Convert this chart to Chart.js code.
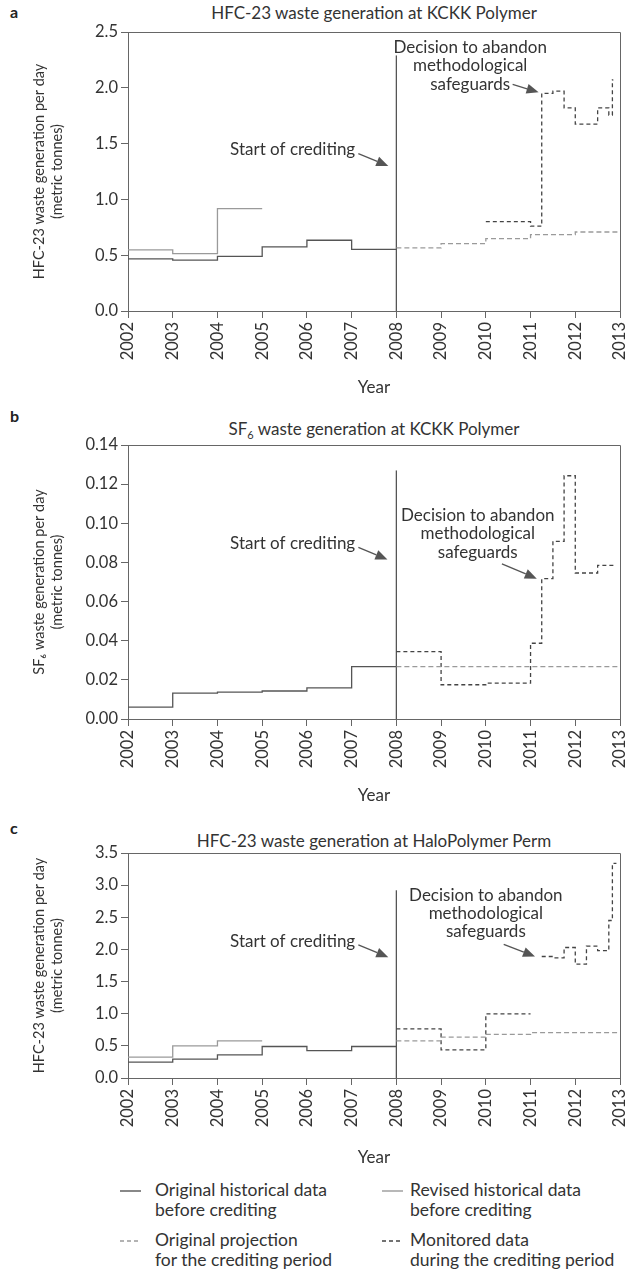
<!DOCTYPE html>
<html>
<head>
<meta charset="utf-8">
<script src="https://cdn.jsdelivr.net/npm/chart.js@4.4.1/dist/chart.umd.min.js"></script>
<style>
    body { margin: 0; background: #fff; font-family: Lato, sans-serif; color: #333; }
    #page { position: relative; width: 627px; height: 1270px; overflow: hidden; }
    .panel { position: absolute; left: 0; width: 627px; }
    .letter { position: absolute; left: 10px; font-weight: bold; font-size: 16px; color: #222; }
    .title { position: absolute; left: 128px; width: 492px; text-align: center; font-size: 17px; line-height: 18px; }
    .title sub { font-size: 11px; vertical-align: -4px; line-height: 0; }
    .legend { position: absolute; font-size: 17.5px; line-height: 19.5px; }
    .legend svg { position: absolute; top: 9px; }
</style>
</head>
<body>
<div id="page">
    <div class="letter" style="top: 2px;">a</div>
    <div class="title" style="top: 4px;">HFC-23 waste generation at KCKK Polymer</div>
    <div class="panel" style="top: 0; height: 400px;"><canvas id="chartA" width="627" height="400"></canvas></div>

    <div class="letter" style="top: 406px;">b</div>
    <div class="title" style="top: 420px;">SF<sub>6</sub> waste generation at KCKK Polymer</div>
    <div class="panel" style="top: 400px; height: 408px;"><canvas id="chartB" width="627" height="408"></canvas></div>

    <div class="letter" style="top: 818px;">c</div>
    <div class="title" style="top: 832px;">HFC-23 waste generation at HaloPolymer Perm</div>
    <div class="panel" style="top: 808px; height: 362px;"><canvas id="chartC" width="627" height="362"></canvas></div>

    <div class="legend" style="left: 155px; top: 1180px;">
        <svg width="21" height="4" style="left: -35px;"><line x1="0" y1="2" x2="21" y2="2" stroke="#555" stroke-width="1.4"/></svg>
        Original historical data<br>before crediting
    </div>
    <div class="legend" style="left: 410px; top: 1180px;">
        <svg width="21" height="4" style="left: -28px;"><line x1="0" y1="2" x2="21" y2="2" stroke="#9a9a9a" stroke-width="1.4"/></svg>
        Revised historical data<br>before crediting
    </div>
    <div class="legend" style="left: 155px; top: 1230px;">
        <svg width="21" height="4" style="left: -35px;"><line x1="0" y1="2" x2="21" y2="2" stroke="#9a9a9a" stroke-width="1.4" stroke-dasharray="4 3"/></svg>
        Original projection<br>for the crediting period
    </div>
    <div class="legend" style="left: 410px; top: 1230px;">
        <svg width="21" height="4" style="left: -28px;"><line x1="0" y1="2" x2="21" y2="2" stroke="#444" stroke-width="1.4" stroke-dasharray="4 3"/></svg>
        Monitored data<br>during the crediting period
    </div>
</div>

<script>
// Tick labels
const yearLabels = ['2002', '2003', '2004', '2005', '2006', '2007', '2008', '2009', '2010', '2011', '2012', '2013'];
const yTicksA = ['0.0', '0.5', '1.0', '1.5', '2.0', '2.5'];
const yTicksB = ['0.00', '0.02', '0.04', '0.06', '0.08', '0.10', '0.12', '0.14'];
const yTicksC = ['0.0', '0.5', '1.0', '1.5', '2.0', '2.5', '3.0', '3.5'];

// Step edges (years) shared by the series
const histEdges = [2002, 2003, 2004, 2005, 2006, 2007, 2008];
const revEdges = [2002, 2003, 2004, 2005];
const projEdges = [2008, 2009, 2010, 2011, 2012, 2013];
const creditStart = 2008;

// Panel a: HFC-23 at KCKK Polymer
const origA = [0.467, 0.455, 0.49, 0.574, 0.634, 0.553];
const revA = [0.548, 0.515, 0.917];
const projA = [0.565, 0.604, 0.649, 0.685, 0.708];
const monEdgesA = [2010, 2011, 2011.25, 2011.5, 2011.75, 2012, 2012.5, 2012.75, 2012.83, 2012.85];
const monA = [0.80, 0.76, 1.95, 1.97, 1.82, 1.675, 1.82, 1.756, 2.07];
const creditTopA = 2.29;

// Panel b: SF6 at KCKK Polymer
const origB = [0.0061, 0.0132, 0.0137, 0.0143, 0.0159, 0.0268];
const projB = [0.0268, 0.0268, 0.0268, 0.0268, 0.0268];
const monEdgesB = [2008, 2009, 2010, 2011, 2011.25, 2011.5, 2011.75, 2012, 2012.5, 2012.87];
const monB = [0.0344, 0.0175, 0.0183, 0.0387, 0.0717, 0.0908, 0.1243, 0.0746, 0.0785];
const creditTopB = 0.127;

// Panel c: HFC-23 at HaloPolymer Perm
const origC = [0.247, 0.293, 0.36, 0.49, 0.427, 0.49];
const revC = [0.324, 0.50, 0.578];
const projC = [0.578, 0.635, 0.68, 0.707, 0.707];
const monEdgesC = [2008, 2009, 2010, 2011, 2011.25, 2011.5, 2011.75, 2012, 2012.25, 2012.5, 2012.75, 2012.83, 2012.92];
const monC = [0.764, 0.438, 0.997, null, 1.89, 1.87, 2.03, 1.77, 2.05, 1.98, 2.45, 3.34];
const creditTopC = 2.92;

const DARK = '#555';
const LIGHT = '#9a9a9a';
const AXIS = '#666';
const TEXT = '#333';

// turn edges + values into points for a 'before' stepped line
function stepPoints(edges, vals) {
    const pts = [];
    vals.forEach((v, i) => {
        if (v === null) {
            pts.push({ x: edges[i], y: null });
            return;
        }
        pts.push({ x: edges[i], y: v });
        if (i === vals.length - 1 || vals[i + 1] === null) {
            pts.push({ x: edges[i + 1], y: v });
        }
    });
    return pts;
}

function stepSet(points, color, dash) {
    return {
        data: points,
        borderColor: color,
        borderWidth: 1.3,
        borderDash: dash || [],
        stepped: 'before',
        pointRadius: 0,
        fill: false
    };
}

// frame on top/right
const framePlugin = {
    id: 'frame',
    afterDraw(chart) {
        const { ctx, chartArea: a } = chart;
        ctx.save();
        ctx.strokeStyle = AXIS;
        ctx.lineWidth = 1;
        ctx.beginPath();
        ctx.moveTo(a.left, a.top + 0.5);
        ctx.lineTo(a.right + 0.5, a.top + 0.5);
        ctx.lineTo(a.right + 0.5, a.bottom);
        ctx.stroke();
        ctx.restore();
    }
};

// notes with arrows
const notesPlugin = {
    id: 'notes',
    afterDatasetsDraw(chart, args, opts) {
        const { ctx, scales: { x, y } } = chart;
        ctx.save();
        ctx.font = '17px Lato';
        ctx.textBaseline = 'middle';
        opts.items.forEach(n => {
            ctx.fillStyle = TEXT;
            ctx.textAlign = n.align;
            const px = x.getPixelForValue(n.x);
            const py = y.getPixelForValue(n.y);
            n.lines.forEach((t, i) => ctx.fillText(t, px, py + i * 18.3));

            const x0 = x.getPixelForValue(n.tail[0]), y0 = y.getPixelForValue(n.tail[1]);
            const x1 = x.getPixelForValue(n.tip[0]), y1 = y.getPixelForValue(n.tip[1]);
            const ang = Math.atan2(y1 - y0, x1 - x0);
            const len = 12, half = 5;
            ctx.strokeStyle = DARK;
            ctx.fillStyle = DARK;
            ctx.lineWidth = 1.3;
            ctx.beginPath();
            ctx.moveTo(x0, y0);
            ctx.lineTo(x1 - len * Math.cos(ang), y1 - len * Math.sin(ang));
            ctx.stroke();
            ctx.beginPath();
            ctx.moveTo(x1, y1);
            ctx.lineTo(x1 - len * Math.cos(ang) + half * Math.sin(ang), y1 - len * Math.sin(ang) - half * Math.cos(ang));
            ctx.lineTo(x1 - len * Math.cos(ang) - half * Math.sin(ang), y1 - len * Math.sin(ang) + half * Math.cos(ang));
            ctx.closePath();
            ctx.fill();
        });
        ctx.restore();
    }
};

const decisionText = ['Decision to abandon', 'methodological', 'safeguards'];

function makeChart(id, p) {
    const datasets = [stepSet(stepPoints(histEdges, p.orig), DARK)];
    if (p.rev) datasets.push(stepSet(stepPoints(revEdges, p.rev), LIGHT));
    datasets.push(stepSet(stepPoints(projEdges, p.proj), LIGHT, [5, 3]));
    datasets.push(stepSet(stepPoints(p.monEdges, p.mon), '#444', [4, 3]));
    datasets.push({
        data: [{ x: creditStart, y: 0 }, { x: creditStart, y: p.creditTop }],
        borderColor: DARK,
        borderWidth: 1.3,
        pointRadius: 0
    });

    return new Chart(document.getElementById(id), {
        type: 'line',
        data: { datasets: datasets },
        plugins: [framePlugin, notesPlugin],
        options: {
            responsive: false,
            animation: false,
            events: [],
            layout: { padding: { top: p.padTop, right: 7, left: 0, bottom: 0 } },
            plugins: {
                legend: { display: false },
                tooltip: { enabled: false },
                notes: { items: p.notes }
            },
            scales: {
                x: {
                    type: 'linear',
                    min: 2002,
                    max: 2013,
                    afterFit: s => { s.height = p.xHeight; s.paddingLeft = 0; s.paddingRight = 0; },
                    ticks: {
                        stepSize: 1,
                        autoSkip: false,
                        maxRotation: 90,
                        minRotation: 90,
                        padding: 4,
                        color: TEXT,
                        font: { family: 'Lato', size: 16.5 },
                        callback: v => yearLabels[Math.round(v - 2002)]
                    },
                    grid: { drawOnChartArea: false, tickLength: 7, color: AXIS },
                    border: { color: AXIS },
                    title: { display: true, text: 'Year', color: TEXT, font: { family: 'Lato', size: 17 }, padding: { top: 0, bottom: 2 } }
                },
                y: {
                    min: 0,
                    max: p.yMax,
                    afterFit: s => { s.width = 128; s.paddingTop = 0; s.paddingBottom = 0; },
                    ticks: {
                        stepSize: p.yStep,
                        padding: 3,
                        color: TEXT,
                        font: { family: 'Lato', size: 16.5 },
                        callback: (v, i) => p.yTicks[i]
                    },
                    grid: { drawOnChartArea: false, tickLength: 7, color: AXIS },
                    border: { color: AXIS },
                    title: { display: true, text: p.yTitle, color: TEXT, font: { family: 'Lato', size: 14.5, lineHeight: 1.2 }, padding: { top: 31, bottom: 0 } }
                }
            }
        }
    });
}

makeChart('chartA', {
    orig: origA, rev: revA, proj: projA, monEdges: monEdgesA, mon: monA, creditTop: creditTopA,
    yMax: 2.5, yStep: 0.5, yTicks: yTicksA, padTop: 32, xHeight: 89,
    yTitle: ['HFC-23 waste generation per day', '(metric tonnes)'],
    notes: [
        { lines: ['Start of crediting'], x: 2007.08, y: 1.45, align: 'right', tail: [2007.15, 1.41], tip: [2007.82, 1.30] },
        { lines: decisionText, x: 2009.65, y: 2.36, align: 'center', tail: [2010.6, 2.03], tip: [2011.18, 1.96] }
    ]
});

makeChart('chartB', {
    orig: origB, rev: null, proj: projB, monEdges: monEdgesB, mon: monB, creditTop: creditTopB,
    yMax: 0.14, yStep: 0.02, yTicks: yTicksB, padTop: 45, xHeight: 89,
    yTitle: ['SF\u2086 waste generation per day', '(metric tonnes)'],
    notes: [
        { lines: ['Start of crediting'], x: 2007.08, y: 0.0897, align: 'right', tail: [2007.15, 0.0877], tip: [2007.8, 0.0815] },
        { lines: decisionText, x: 2009.82, y: 0.1039, align: 'center', tail: [2010.36, 0.0793], tip: [2011.14, 0.0717] }
    ]
});

makeChart('chartC', {
    orig: origC, rev: revC, proj: projC, monEdges: monEdgesC, mon: monC, creditTop: creditTopC,
    yMax: 3.5, yStep: 0.5, yTicks: yTicksC, padTop: 45, xHeight: 92,
    yTitle: ['HFC-23 waste generation per day', '(metric tonnes)'],
    notes: [
        { lines: ['Start of crediting'], x: 2007.08, y: 2.12, align: 'right', tail: [2007.15, 2.07], tip: [2007.82, 1.88] },
        { lines: decisionText, x: 2010.0, y: 2.846, align: 'center', tail: [2010.4, 2.08], tip: [2011.1, 1.89] }
    ]
});
</script>
</body>
</html>
